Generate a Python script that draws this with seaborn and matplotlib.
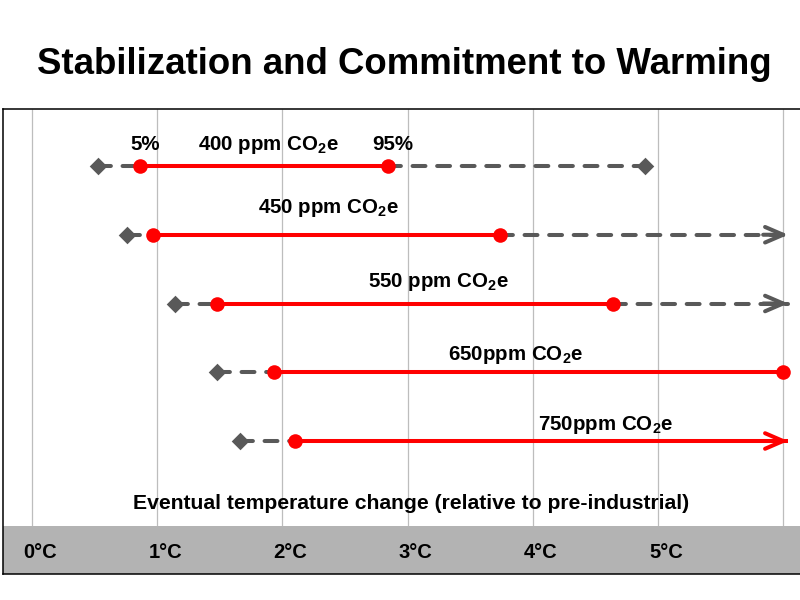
import numpy as np
import pandas as pd
import matplotlib
matplotlib.use("Agg")
import matplotlib.pyplot as plt
import seaborn as sns
from matplotlib.transforms import ScaledTranslation

# ---------------- data ----------------
scenarios = ["400 ppm CO$_\\mathbf{2}$e", "450 ppm CO$_\\mathbf{2}$e",
             "550 ppm CO$_\\mathbf{2}$e", "650ppm CO$_\\mathbf{2}$e",
             "750ppm CO$_\\mathbf{2}$e"]
low_est = [0.53, 0.76, 1.14, 1.48, 1.66]       # grey diamonds (left)
p5 = [0.86, 0.97, 1.48, 1.93, 2.10]            # 5 % (red dot)
p95 = [2.84, 3.74, 4.64, 6.00, np.inf]         # 95 % (red dot / open)
high_est = [4.90, np.inf, np.inf, 6.00, np.inf]  # grey diamond (right) / open
tick_vals = [0, 1, 2, 3, 4, 5, 6]
tick_labels = ["0°C", "1°C", "2°C", "3°C", "4°C", "5°C", ""]
pct_labels = ["5%", "95%"]

# ---------------- style ----------------
sns.set_theme(style="white")
plt.rcParams["font.family"] = ["Liberation Sans", "DejaVu Sans"]
plt.rcParams["mathtext.fontset"] = "custom"
plt.rcParams["mathtext.rm"] = "Liberation Sans"
plt.rcParams["mathtext.bf"] = "Liberation Sans:bold"
plt.rcParams["mathtext.it"] = "Liberation Sans:italic"
plt.rcParams["text.color"] = "black"
plt.rcParams["xtick.color"] = "black"
plt.rcParams["xtick.labelcolor"] = "black"

GREY = "#595959"
RED = "#FF0000"
X_END = 6.04   # where open-ended ranges stop (arrow tips)

fig = plt.figure(figsize=(8, 6), dpi=100)
ax = fig.add_axes([3 / 800, 26 / 600, 797 / 800, 465 / 600])

rows = np.arange(len(scenarios))
y_band_top = (526 - 166) / 68.75
y_bottom = (574 - 166) / 68.75
y_top = (109 - 166) / 68.75

# vertical grid lines stopping at the grey band
ax.vlines(tick_vals, y_band_top, y_top, color="#BDBDBD", lw=0.9, zorder=0.5)

# grey dashed segments (outside the 5-95 % range)
gseg = []
for i in rows:
    gseg.append((f"{i}a", low_est[i], i))
    gseg.append((f"{i}a", p5[i], i))
    if high_est[i] > p95[i]:
        gseg.append((f"{i}b", min(p95[i], X_END), i))
        gseg.append((f"{i}b", min(high_est[i], X_END), i))
gdf = pd.DataFrame(gseg, columns=["seg", "T", "row"])
sns.lineplot(data=gdf, x="T", y="row", units="seg", estimator=None, sort=False,
             color=GREY, lw=2.9, linestyle=(0, (3.2, 2.9)),
             dash_capstyle="round", ax=ax, zorder=3)

# red solid 5-95 % range
rseg = []
for i in rows:
    rseg.append((str(i), p5[i], i))
    rseg.append((str(i), min(p95[i], X_END), i))
rdf = pd.DataFrame(rseg, columns=["seg", "T", "row"])
sns.lineplot(data=rdf, x="T", y="row", units="seg", estimator=None, sort=False,
             color=RED, lw=2.9, solid_capstyle="butt", ax=ax, zorder=4)

# arrow heads for open-ended ranges
for i in rows:
    if np.isinf(high_est[i]):
        col = RED if np.isinf(p95[i]) else GREY
        ax.annotate("", xy=(X_END, i), xytext=(X_END - 0.2, i),
                    arrowprops=dict(arrowstyle="->,head_length=0.65,head_width=0.28",
                                    color=col, lw=2.9, mutation_scale=20,
                                    shrinkA=0, shrinkB=0),
                    zorder=5)

# markers
dia = pd.DataFrame(
    [(low_est[i], i) for i in rows] +
    [(high_est[i], i) for i in rows if np.isfinite(high_est[i]) and high_est[i] > p95[i]],
    columns=["T", "row"])
sns.scatterplot(data=dia, x="T", y="row", marker="D", s=80, color=GREY,
                linewidth=0, ax=ax, zorder=6)
dots = pd.DataFrame(
    [(p5[i], i) for i in rows] +
    [(p95[i], i) for i in rows if np.isfinite(p95[i])],
    columns=["T", "row"])
sns.scatterplot(data=dots, x="T", y="row", marker="o", s=110, color=RED,
                linewidth=0, ax=ax, zorder=7)

# scenario labels
label_x = [1.885, 2.37, 3.25, 3.86, 4.58]
label_dy = [16, 22, 16.5, 12, 11]
for i in rows:
    ax.annotate(scenarios[i], xy=(label_x[i], i), xytext=(0, label_dy[i] * 0.72),
                textcoords="offset points", ha="center", va="baseline",
                fontsize=14.8, fontweight="bold", color="black", zorder=8)
ax.annotate(pct_labels[0], xy=(0.905, 0), xytext=(0, 11.5), textcoords="offset points",
            ha="center", va="baseline", fontsize=14.8, fontweight="bold")
ax.annotate(pct_labels[1], xy=(2.88, 0), xytext=(0, 11.5), textcoords="offset points",
            ha="center", va="baseline", fontsize=14.8, fontweight="bold")

# axis scale / limits
ax.set_xlim((3 - 32) / 125.2, (800 - 32) / 125.2)
ax.set_ylim(y_bottom, y_top)

# grey band at the bottom holding the tick labels
ax.axhspan(y_band_top, y_bottom, color="#B3B3B3", lw=0, zorder=1)

ax.set_xticks(tick_vals)
ax.set_xticklabels(tick_labels, fontsize=14.5, fontweight="bold", color="black")
ax.tick_params(axis="x", length=0, pad=-22)
off = ScaledTranslation(8 / 100, 0, fig.dpi_scale_trans)
for lab in ax.get_xticklabels():
    lab.set_transform(lab.get_transform() + off)
ax.set_yticks([])
ax.set_xlabel("")
ax.set_ylabel("")
ax.grid(False)
ax.set_axisbelow(False)

ax.text(3.03, (509 - 166) / 68.75, "Eventual temperature change (relative to pre-industrial)",
        ha="center", va="baseline", fontsize=15.2, fontweight="bold", zorder=8)

for side in ["left", "top", "bottom"]:
    ax.spines[side].set_color("black")
    ax.spines[side].set_linewidth(1.1)
ax.spines["right"].set_visible(False)

fig.text(404.5 / 800, (600 - 74) / 600, "Stabilization and Commitment to Warming",
         ha="center", va="baseline", fontsize=26.4, fontweight="bold", color="black")

fig.savefig("out.png", dpi=100)
